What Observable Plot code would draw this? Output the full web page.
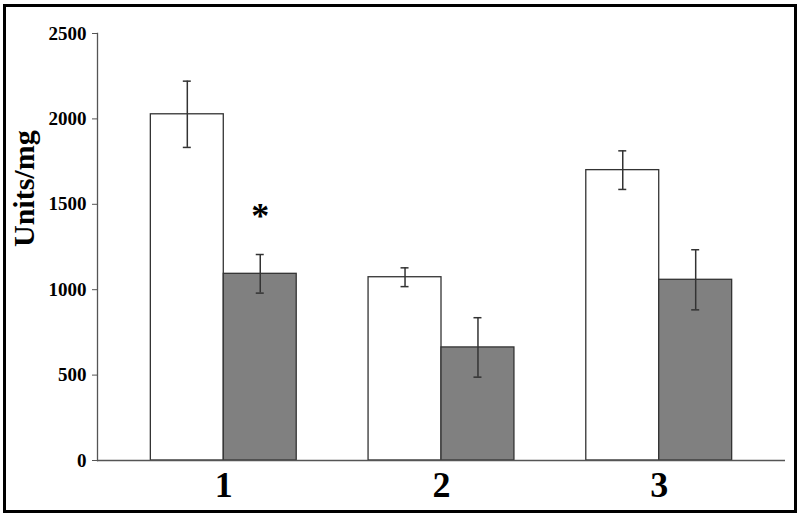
<!DOCTYPE html>
<html>
<head>
<meta charset="utf-8">
<script src="https://cdn.jsdelivr.net/npm/d3@7"></script>
<script src="https://cdn.jsdelivr.net/npm/@observablehq/plot@0.6"></script>
<style>
  html, body { margin: 0; padding: 0; background: #fff; }
  #wrap { position: relative; width: 800px; height: 515px; overflow: hidden; }
  #border { position: absolute; left: 3px; top: 4px; width: 794px; height: 509px; box-sizing: border-box; border: 3px solid #000; pointer-events: none; }
  svg { display: block; }
</style>
</head>
<body>
<div id="wrap"><div id="border"></div></div>
<script>
const groups = ["1", "2", "3"];
const seriesNames = ["A", "B"];
const meanA = [2027, 1073, 1700];
const errA = [194, 55, 113];
const meanB = [1093, 662, 1058];
const errB = [113, 174, 176];
const yTicks = [0, 500, 1000, 1500, 2000, 2500];
const noteGroup = ["1"];
const noteSeries = ["B"];
const noteValue = [1426];
const noteText = ["*"];

const rowsA = groups.map((g, i) => ({group: g, series: seriesNames[0], mean: meanA[i], err: errA[i]}));
const rowsB = groups.map((g, i) => ({group: g, series: seriesNames[1], mean: meanB[i], err: errB[i]}));
const notes = noteGroup.map((g, i) => ({group: g, series: noteSeries[i], y: noteValue[i], label: noteText[i]}));

const W = 800, H = 515, mL = 97, mR = 15, mT = 33, mB = 55;
const pIn = 0.33, pOut = 0.245;
const step = (W - mL - mR) / (groups.length - pIn + 2 * pOut);
const bw = step * (1 - pIn);
const q = bw / 4;
const cap = 4;
const serif = "'Liberation Serif', 'Times New Roman', serif";

const chart = Plot.plot({
  width: W, height: H,
  marginTop: mT, marginBottom: mB, marginLeft: mL, marginRight: mR,
  style: {fontFamily: serif, fontWeight: "bold", background: "#fff", color: "#000"},
  x: {domain: groups, paddingInner: pIn, paddingOuter: pOut, round: false},
  y: {domain: [0, 2500]},
  marks: [
    Plot.axisY({ticks: yTicks, tickFormat: d => String(d), tickSize: 5, tickPadding: 6, fontSize: 19, fontFamily: serif, label: null, stroke: "#555", fill: "#000"}),
    Plot.axisX({tickSize: 0, tickPadding: 11, fontSize: 36, fontFamily: serif, label: null, fill: "#000"}),
    Plot.barY(rowsA, {x: "group", y: "mean", fill: "#fff", stroke: "#333", strokeWidth: 1.3, insetLeft: 0, insetRight: bw / 2}),
    Plot.barY(rowsB, {x: "group", y: "mean", fill: "#808080", stroke: "#333", strokeWidth: 1.3, insetLeft: bw / 2, insetRight: 0}),
    Plot.ruleX(rowsA, {x: "group", y1: d => d.mean - d.err, y2: d => d.mean + d.err, dx: -q, stroke: "#333", strokeWidth: 1.5}),
    Plot.ruleX(rowsB, {x: "group", y1: d => d.mean - d.err, y2: d => d.mean + d.err, dx: q, stroke: "#333", strokeWidth: 1.5}),
    Plot.tickY(rowsA, {x: "group", y: d => d.mean + d.err, insetLeft: q - cap, insetRight: 3 * q - cap, stroke: "#333", strokeWidth: 1.5}),
    Plot.tickY(rowsA, {x: "group", y: d => d.mean - d.err, insetLeft: q - cap, insetRight: 3 * q - cap, stroke: "#333", strokeWidth: 1.5}),
    Plot.tickY(rowsB, {x: "group", y: d => d.mean + d.err, insetLeft: 3 * q - cap, insetRight: q - cap, stroke: "#333", strokeWidth: 1.5}),
    Plot.tickY(rowsB, {x: "group", y: d => d.mean - d.err, insetLeft: 3 * q - cap, insetRight: q - cap, stroke: "#333", strokeWidth: 1.5}),
    Plot.ruleY([0], {stroke: "#555", strokeWidth: 1.3}),
    Plot.frame({anchor: "left", stroke: "#555", strokeWidth: 1.3}),
    Plot.text(["Units/mg"], {frameAnchor: "left", rotate: -90, dx: -73, fontSize: 30, fontWeight: "bold", fontFamily: serif, fill: "#000"}),
    Plot.text(notes, {x: "group", y: "y", text: "label", dx: q, fontSize: 36, fontWeight: "bold", fontFamily: serif, fill: "#000"})
  ]
});
document.getElementById("wrap").prepend(chart);
</script>
</body>
</html>
